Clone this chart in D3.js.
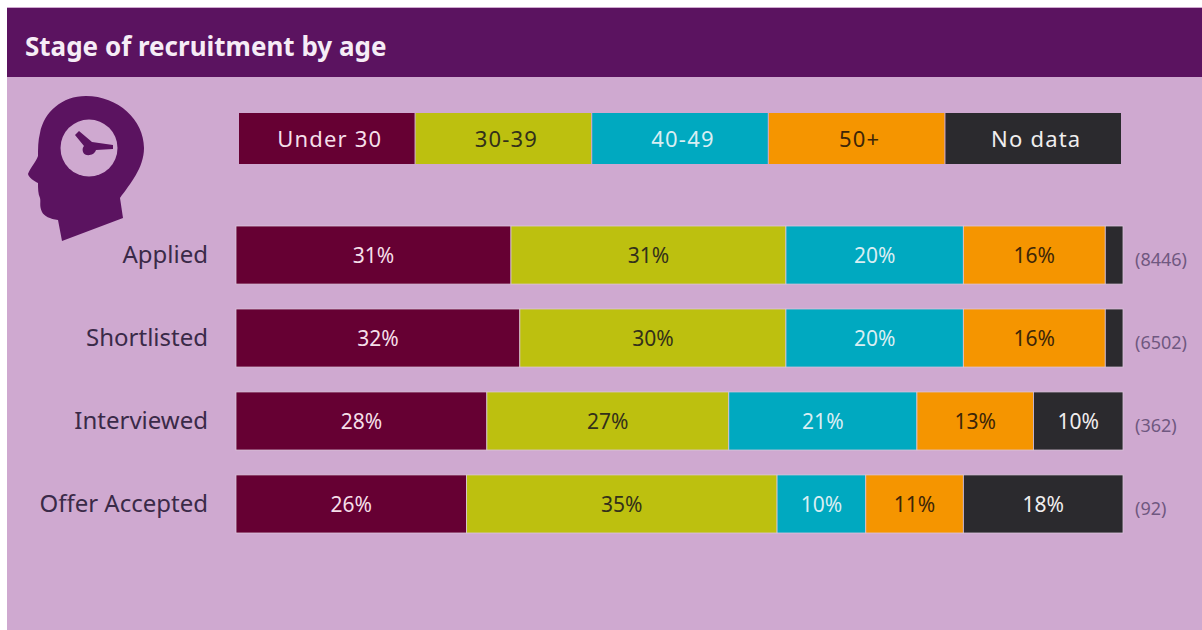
<!DOCTYPE html>
<html>
<head>
<meta charset="utf-8">
<script src="https://cdn.jsdelivr.net/npm/d3@7"></script>
<style>
  html, body { margin: 0; padding: 0; background: #fff; }
  svg { display: block; }
  text { font-family: "Noto Sans", sans-serif; }
</style>
</head>
<body>
<svg id="chart" width="1202" height="630"></svg>
<script>
const title = "Stage of recruitment by age";
const stages = ["Applied", "Shortlisted", "Interviewed", "Offer Accepted"];
const sampleSizes = ["(8446)", "(6502)", "(362)", "(92)"];
const ageGroups = ["Under 30", "30-39", "40-49", "50+", "No data"];

// Percentage shares per stage, in stage order
const under30 = [31, 32, 28, 26];
const age30to39 = [31, 30, 27, 35];
const age40to49 = [20, 20, 21, 10];
const age50plus = [16, 16, 13, 11];
const noData = [2, 2, 10, 18];
const seriesValues = [under30, age30to39, age40to49, age50plus, noData];

const groupColors = ["#660033", "#bdc00f", "#00a9c0", "#f59500", "#2b2a2e"];
const labelColors = ["#f5dfe9", "#33301a", "#d9eef3", "#3d2608", "#f0eeee"];
const minLabelShare = 0.05;

const svg = d3.select("#chart");
const panelColor = "#cfa9d0";
const headerColor = "#5b1360";

// Page panel and header band
svg.append("rect").attr("x", 7).attr("y", 7).attr("width", 1195).attr("height", 623).attr("fill", panelColor);
svg.append("rect").attr("x", 7).attr("y", 8).attr("width", 1195).attr("height", 69).attr("fill", headerColor);
svg.append("text").attr("x", 25).attr("y", 56)
  .attr("fill", "#f6ecf6").attr("font-size", 26).attr("font-weight", 700)
  .text(title);

// Head with clock icon
const icon = svg.append("g");
icon.append("path").attr("fill", headerColor)
  .attr("d", "M86,96 C118,96 144,120 144,148 C144,168 130,184 120,198 L123,218 L62,241 L58,220 " +
             "C50,219 44,216 42,212 C39,206 41,202 40,198 C38,194 38,188 38,183 C34,181 29,178 28,174 " +
             "C30,168 36,162 38,156 C38,148 38,141 40,133 C44,112 62,96 86,96 Z");
icon.append("circle").attr("cx", 89).attr("cy", 148).attr("r", 28.5).attr("fill", panelColor);
icon.append("path").attr("fill", headerColor)
  .attr("d", "M75,135 L79,131 L92,142 L113,145 L113,149 L96,150 C94,156 85,157 83,152 C82,149 83,147 84,146 Z");

// Legend row: one equal cell per age group
const legendX = d3.scaleBand().domain(ageGroups).range([239, 1121]).paddingInner(0.006);
const legend = svg.append("g").selectAll("g").data(ageGroups).join("g")
  .attr("transform", d => `translate(${legendX(d)},113)`);
legend.append("rect")
  .attr("width", legendX.bandwidth()).attr("height", 51)
  .attr("fill", (d, i) => groupColors[i]);
legend.append("text")
  .attr("x", legendX.bandwidth() / 2 + 3).attr("y", 26).attr("dy", "0.35em")
  .attr("text-anchor", "middle").attr("font-size", 22).attr("letter-spacing", 1.2)
  .attr("fill", (d, i) => labelColors[i])
  .text(d => d);

// Each stage's bar fills the full width, so shares are normalised per row
const rows = stages.map((stage, r) => {
  const row = { stage };
  ageGroups.forEach((g, s) => { row[g] = seriesValues[s][r]; });
  return row;
});
const stacked = d3.stack().keys(ageGroups).offset(d3.stackOffsetExpand)(rows);

const x = d3.scaleLinear().domain([0, 1]).range([236, 1123]);
const y = d3.scaleBand().domain(stages).range([226, 533]).paddingInner(0.3);

const series = svg.append("g").selectAll("g").data(stacked).join("g");
series.selectAll("rect").data(d => d).join("rect")
  .attr("x", d => x(d[0]))
  .attr("y", d => y(d.data.stage))
  .attr("width", d => x(d[1]) - x(d[0]))
  .attr("height", y.bandwidth())
  .attr("fill", function () { return groupColors[d3.select(this.parentNode).datum().index]; })
  .attr("stroke", "#dcc6dc").attr("stroke-width", 0.8);

// Share labels; the thin "no data" slivers stay unlabelled
series.selectAll("text").data(d => d.map(v => ({ v, key: d.key, index: d.index })))
  .join("text")
  .filter(d => d.v[1] - d.v[0] >= minLabelShare)
  .attr("x", d => (x(d.v[0]) + x(d.v[1])) / 2)
  .attr("y", d => y(d.v.data.stage) + y.bandwidth() / 2 + 1)
  .attr("dy", "0.35em").attr("text-anchor", "middle").attr("font-size", 21)
  .attr("fill", d => labelColors[d.index])
  .text(d => d.v.data[d.key] + "%");

// Stage names
const yAxis = svg.append("g").attr("transform", "translate(208,0)")
  .call(d3.axisLeft(y).tickSize(0).tickPadding(0));
yAxis.select(".domain").remove();
yAxis.selectAll("text")
  .attr("font-size", 24).attr("fill", "#3a2a48")
  .attr("font-family", '"Noto Sans", sans-serif')
  .attr("dy", "0.32em");

// Sample sizes at the right of each bar
svg.append("g").selectAll("text").data(stages).join("text")
  .attr("x", 1135)
  .attr("y", d => y(d) + y.bandwidth() / 2 + 5)
  .attr("dy", "0.35em").attr("font-size", 18).attr("fill", "#6f5880")
  .text((d, i) => sampleSizes[i]);
</script>
</body>
</html>
